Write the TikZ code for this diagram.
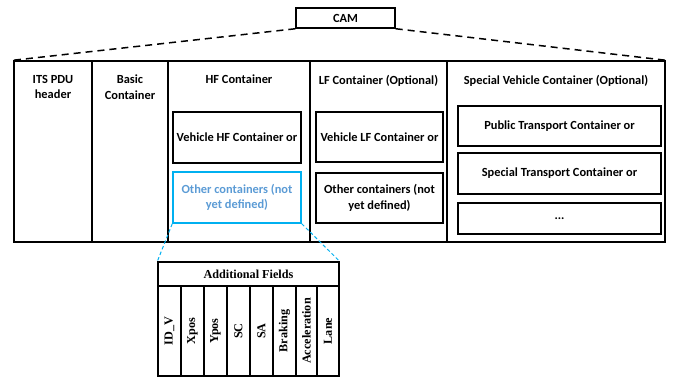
\documentclass[tikz,border=0pt]{standalone}
\usepackage{fontspec}
\setmainfont{Carlito}
\newfontfamily\tnr{Liberation Serif}
\usetikzlibrary{positioning}
\definecolor{boxcyan}{RGB}{0,176,240}
\definecolor{txtblue}{RGB}{91,155,213}

\begin{document}
\begin{tikzpicture}[
  x=1pt, y=-1pt, font=\bfseries\fontsize{12.4}{15.5}\selectfont,
  col/.style={draw, line width=1.5pt, inner sep=0pt},
  hdr/.style={anchor=north, align=center, inner sep=1pt},
  inbox/.style={draw, line width=1.5pt, align=center, inner sep=2pt},
  fld/.style={draw, line width=1.3pt, inner sep=0pt, font=\tnr\bfseries\fontsize{12.2}{14}\selectfont},
  zoom/.style={boxcyan, line width=1pt, dash pattern=on 3.5pt off 2.5pt},
]
  \useasboundingbox (0,0) rectangle (677,381);

  % top message
  \node[col, minimum width=99pt, minimum height=20pt] (cam) at (345.5,18) {CAM};

  % columns of the CAM
  \node[col, minimum width=78pt, minimum height=181pt] (its) at (53,151.5) {};
  \node[col, minimum width=76pt, minimum height=181pt] (basic) at (130,151.5) {};
  \node[col, minimum width=142pt, minimum height=181pt] (hf) at (239,151.5) {};
  \node[col, minimum width=137pt, minimum height=181pt] (lf) at (378.5,151.5) {};
  \node[col, minimum width=218pt, minimum height=181pt] (sv) at (556,151.5) {};

  \node[hdr] (itsh) at (53,74) {ITS PDU\\header};
  \node[hdr] (basich) at (130,74) {Basic\\Container};
  \node[hdr] (hfh) at (239,74) {HF Container};
  \node[hdr] (lfh) at (378.5,74) {LF Container (Optional)};
  \node[hdr] (svh) at (556,74) {Special Vehicle Container (Optional)};

  \draw[line width=1.5pt, dash pattern=on 7pt off 5pt] (cam.south west) -- (its.north west);
  \draw[line width=1.5pt, dash pattern=on 7pt off 5pt] (cam.south east) -- (sv.north east);

  % inner containers
  \node[inbox, minimum width=128pt, minimum height=51pt] (hfv) at (237,137.5) {Vehicle HF Container or};
  \node[inbox, draw=boxcyan, text=txtblue, minimum width=128pt, minimum height=51pt] (hfo) at (237,197.5)
    {Other containers (not\\yet defined)};
  \node[inbox, minimum width=127pt, minimum height=50pt] (lfv) at (379.5,137) {Vehicle LF Container or};
  \node[inbox, minimum width=127pt, minimum height=50pt] (lfo) at (379.5,198)
    {Other containers (not\\yet defined)};
  \node[inbox, minimum width=203pt, minimum height=40pt] (pt) at (559.5,126) {Public Transport Container or};
  \node[inbox, minimum width=203pt, minimum height=41pt] (spt) at (559.5,173.5) {Special Transport Container or};
  \node[inbox, minimum width=203pt, minimum height=31pt] (more) at (559.5,218.5) {...};

  % additional fields table
  \node[fld, minimum width=181pt, minimum height=24pt] (addf) at (248.5,274) {Additional Fields};
  \foreach \nm/\lbl/\xc/\w in {idv/ID\_V/169.5/23, xpos/Xpos/192.5/23, ypos/Ypos/215.5/23,
      sc/SC/238.5/23, sa/SA/261.5/23, brk/Braking/284.5/23, acc/Acceleration/306.5/21, lane/Lane/328/22}
    \node[fld, rotate=90, minimum width=90pt, minimum height=\w pt] (\nm) at (\xc,331) {\lbl};

  \draw[zoom] (hfo.south west) -- (addf.north west);
  \draw[zoom] (hfo.south east) -- (addf.north east);
\end{tikzpicture}
\end{document}
